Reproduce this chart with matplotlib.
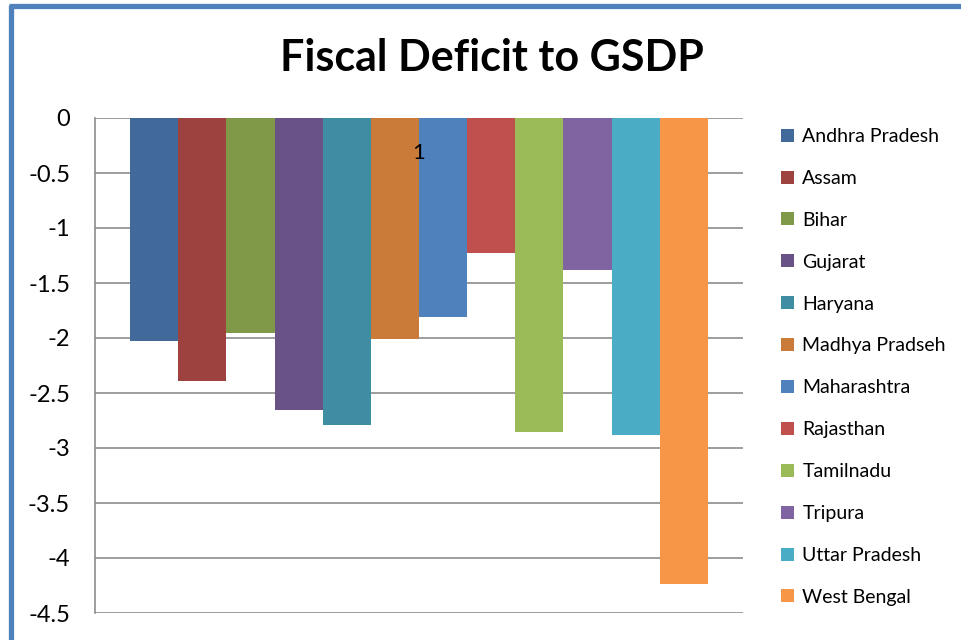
import matplotlib.pyplot as plt
from matplotlib.patches import Patch
from matplotlib.lines import Line2D

# dados do grafico
estados = ["Andhra Pradesh", "Assam", "Bihar", "Gujarat", "Haryana", "Madhya Pradseh",
           "Maharashtra", "Rajasthan", "Tamilnadu", "Tripura", "Uttar Pradesh", "West Bengal"]
deficit = [-2.03, -2.39, -1.95, -2.65, -2.79, -2.01,
           -1.81, -1.23, -2.85, -1.38, -2.88, -4.24]
categoria = "1"
cores = ["#416A9B", "#9D423F", "#7F9949", "#695285", "#3E8DA2", "#CB7B39",
         "#4F81BD", "#C0504D", "#9BBB59", "#8064A2", "#4BACC6", "#F79646"]
yticks = [0, -0.5, -1, -1.5, -2, -2.5, -3, -3.5, -4, -4.5]

plt.rcParams['font.family'] = ['Lato', 'DejaVu Sans']

fig = plt.figure(figsize=(9.61, 6.4), dpi=100)
ax = fig.add_axes([95/961, 1-613/640, 648/961, 495/640])

n = len(estados)
for i in range(n):
    ax.bar(i, deficit[i], width=1.0, color=cores[i], zorder=2)

margem = 35/48.1
ax.set_xlim(-0.5 - margem, n - 0.5 + margem)
ax.set_ylim(-4.5, 0)
ax.set_yticks(yticks)
ax.set_yticklabels([("%g" % v) for v in yticks], fontsize=17)
ax.tick_params(axis='y', length=0, pad=18)
ax.set_xticks([])
ax.grid(axis='y', color='#8C8C8C', linewidth=1.2, zorder=1)
for lado in ['top', 'right', 'bottom']:
    ax.spines[lado].set_visible(False)
ax.spines['left'].set_color('#8C8C8C')
ax.spines['left'].set_linewidth(1.2)

# rotulo da categoria (eixo horizontal cruza no zero)
ax.annotate(categoria, xy=((n - 1) / 2, 0), xytext=(0, -25), textcoords='offset points',
            ha='center', va='center', fontsize=16, zorder=5)

fig.text(492/961, 1-58/640, "Fiscal Deficit to GSDP", ha='center', va='center',
         fontsize=31, fontweight='bold')

handles = [Patch(facecolor=c, edgecolor='none') for c in cores]
fig.legend(handles, estados, loc='upper left', bbox_to_anchor=(781/961, 1-128/640),
           frameon=False, fontsize=14, handlelength=0.65, handleheight=0.65,
           handletextpad=0.45, labelspacing=1.28, borderpad=0, borderaxespad=0)

# borda azul do grafico
fig.add_artist(Line2D([10.5/961, 10.5/961], [0, 1-5/640], color='#4F81BD',
                      linewidth=3.8, transform=fig.transFigure, solid_capstyle='butt'))
fig.add_artist(Line2D([8.5/961, 1], [1-5.5/640, 1-5.5/640], color='#4F81BD',
                      linewidth=3.8, transform=fig.transFigure, solid_capstyle='butt'))

fig.savefig("out.png", dpi=100)
